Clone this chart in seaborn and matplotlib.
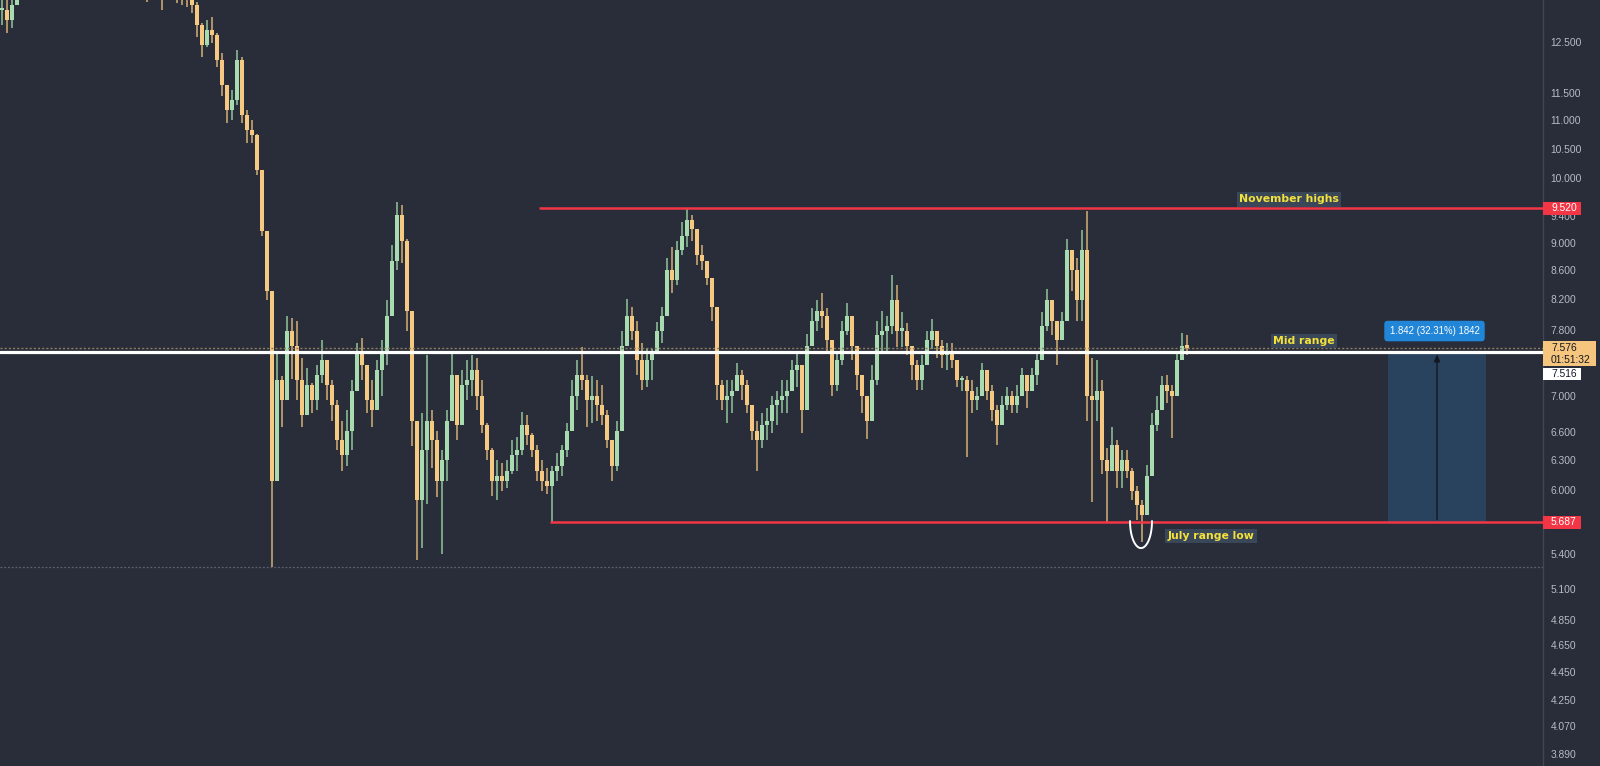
import numpy as np
import pandas as pd
import matplotlib
matplotlib.use("Agg")
import matplotlib.pyplot as plt
import seaborn as sns
from matplotlib.patches import Rectangle
from matplotlib.ticker import NullLocator

bg = "#292d39"
sns.set_theme(style="dark", rc={"axes.facecolor": bg, "figure.facecolor": bg,
                                "savefig.facecolor": bg})
plt.rcParams["font.family"] = ["Liberation Sans", "DejaVu Sans"]

# -- candle data (one bar per ~5 px of the original chart), open = previous close
closes = [13.18, 12.97, 13.29, 13.75, 13.90, 14.30, 14.60, 14.20, 14.80, 15.10,
          14.70, 14.40, 14.90, 15.30, 15.00, 14.60, 14.20, 14.50, 14.90, 14.60,
          14.10, 13.90, 14.30, 14.60, 14.20, 13.80, 14.10, 14.40, 14.00, 13.90,
          14.00, 13.80, 13.50, 13.90, 13.80, 13.60, 13.50, 13.45, 13.30, 12.86,
          12.44, 12.76, 12.65, 12.14, 11.65, 11.18, 11.37, 12.14, 11.09, 10.82,
          10.74, 10.14, 9.18, 8.32, 6.09, 7.18, 6.95, 7.79, 7.60, 7.18,
          6.78, 7.12, 6.95, 7.24, 7.42, 7.12, 6.89, 6.51, 6.35, 6.61,
          7.06, 7.54, 7.36, 6.95, 6.84, 7.30, 7.54, 7.98, 8.74, 9.42,
          9.03, 8.05, 6.72, 5.90, 6.40, 6.72, 6.51, 6.09, 6.30, 6.72,
          7.24, 6.67, 7.12, 7.18, 7.30, 7.00, 6.67, 6.40, 6.09, 6.14,
          6.09, 6.19, 6.35, 6.40, 6.67, 6.56, 6.40, 6.19, 6.09, 6.04,
          6.19, 6.24, 6.40, 6.61, 7.00, 7.24, 7.18, 6.95, 7.00, 6.89,
          6.78, 6.51, 6.24, 6.61, 7.60, 7.98, 7.79, 7.42, 7.18, 7.42,
          7.54, 7.79, 7.98, 8.60, 8.46, 8.89, 9.10, 9.34, 9.21, 8.82,
          8.74, 8.49, 8.10, 7.12, 6.95, 7.00, 7.06, 7.24, 7.12, 6.89,
          6.61, 6.51, 6.67, 6.72, 6.89, 6.95, 7.00, 7.06, 7.30, 7.36,
          6.84, 7.60, 7.92, 8.05, 7.98, 7.67, 7.12, 7.42, 7.79, 7.98,
          7.60, 7.24, 7.00, 6.72, 7.18, 7.73, 7.79, 7.85, 8.19, 7.79,
          7.79, 7.60, 7.36, 7.18, 7.36, 7.67, 7.79, 7.60, 7.48, 7.54,
          7.42, 7.18, 7.18, 7.06, 6.95, 7.00, 7.30, 7.06, 6.84, 6.67,
          6.89, 7.00, 6.89, 7.00, 7.24, 7.06, 7.24, 7.42, 7.85, 8.19,
          7.92, 7.67, 7.92, 8.89, 8.60, 8.19, 8.89, 7.00, 6.95, 7.06,
          6.30, 6.19, 6.46, 6.19, 6.30, 6.19, 5.99, 5.85, 5.76, 6.14,
          6.67, 6.84, 7.12, 7.06, 7.00, 7.42, 7.60, 7.576]

highs = [13.63, 13.40, 13.51, 14.10, 14.30, 14.60, 14.90, 14.70, 15.10, 15.40,
         15.20, 14.90, 15.20, 15.60, 15.50, 15.10, 14.80, 14.90, 15.20, 15.00,
         14.70, 14.30, 14.60, 14.90, 14.70, 14.40, 14.50, 14.70, 14.50, 14.50,
         14.60, 14.40, 14.20, 14.30, 14.20, 14.00, 13.90, 13.80, 13.70, 13.35,
         12.90, 12.97, 13.03, 12.69, 12.28, 11.66, 11.56, 12.34, 12.20, 11.18,
         11.00, 10.76, 10.14, 9.18, 8.32, 7.54, 7.23, 7.98, 7.95, 7.92,
         7.45, 7.33, 7.15, 7.36, 7.67, 7.42, 7.18, 6.95, 6.72, 6.84,
         7.18, 7.64, 7.70, 7.23, 7.19, 7.42, 7.67, 8.19, 8.96, 9.62,
         9.57, 9.06, 8.03, 6.72, 6.81, 7.49, 6.84, 6.61, 6.40, 6.84,
         7.52, 7.18, 7.30, 7.42, 7.48, 7.45, 7.18, 6.69, 6.43, 6.30,
         6.27, 6.30, 6.51, 6.54, 6.82, 6.78, 6.59, 6.46, 6.30, 6.22,
         6.24, 6.37, 6.46, 6.69, 7.19, 7.42, 7.58, 7.24, 7.23, 7.19,
         7.12, 6.84, 6.46, 6.72, 7.79, 8.20, 8.10, 7.92, 7.64, 7.57,
         7.56, 7.90, 8.10, 8.78, 8.93, 9.03, 9.31, 9.52, 9.42, 9.06,
         8.96, 8.74, 8.23, 8.03, 7.19, 7.18, 7.18, 7.39, 7.30, 7.18,
         6.89, 6.72, 6.81, 6.86, 7.00, 7.06, 7.19, 7.18, 7.42, 7.52,
         7.18, 7.75, 8.09, 8.19, 8.28, 8.09, 7.56, 7.54, 7.92, 8.15,
         7.98, 7.56, 7.24, 7.00, 7.36, 7.92, 8.05, 7.98, 8.53, 8.39,
         8.03, 7.89, 7.58, 7.42, 7.48, 7.79, 7.94, 7.79, 7.67, 7.64,
         7.64, 7.36, 7.23, 7.23, 7.18, 7.10, 7.39, 7.24, 7.12, 6.89,
         7.00, 7.10, 7.06, 7.12, 7.33, 7.24, 7.33, 7.54, 8.03, 8.34,
         8.19, 7.89, 8.03, 9.05, 8.89, 8.78, 9.19, 9.48, 7.45, 7.42,
         7.18, 6.43, 6.65, 6.51, 6.40, 6.40, 6.22, 6.04, 5.90, 6.25,
         6.81, 7.00, 7.23, 7.24, 7.12, 7.50, 7.76, 7.73]

lows = [12.86, 12.69, 12.79, 13.29, 13.60, 13.80, 14.10, 13.95, 14.20, 14.60,
        14.40, 14.10, 14.30, 14.80, 14.70, 14.30, 13.90, 14.00, 14.30, 14.20,
        13.80, 13.60, 13.70, 14.10, 13.90, 13.60, 13.65, 13.90, 13.70, 13.36,
        13.60, 13.50, 13.18, 13.45, 13.50, 13.34, 13.29, 13.25, 13.12, 12.61,
        12.20, 12.40, 12.49, 12.00, 11.45, 10.96, 11.00, 11.28, 10.96, 10.59,
        10.59, 10.05, 9.10, 8.19, 5.29, 6.61, 6.65, 7.14, 7.20, 6.95,
        6.65, 6.81, 6.81, 6.84, 7.15, 6.95, 6.72, 6.40, 6.19, 6.24,
        6.40, 7.06, 7.18, 6.81, 6.65, 6.84, 7.00, 7.36, 8.05, 8.60,
        8.71, 7.79, 6.45, 5.35, 5.45, 5.86, 6.22, 5.93, 5.40, 6.09,
        6.81, 6.51, 6.72, 6.95, 7.00, 6.84, 6.59, 6.30, 5.94, 5.90,
        5.99, 6.02, 6.16, 6.19, 6.35, 6.46, 6.33, 6.09, 5.99, 5.96,
        5.69, 6.09, 6.14, 6.33, 6.67, 6.84, 7.07, 6.65, 6.69, 6.72,
        6.67, 6.43, 6.09, 6.19, 6.95, 7.60, 7.67, 7.24, 7.07, 7.10,
        7.18, 7.52, 7.64, 8.19, 8.29, 8.39, 8.82, 8.93, 9.03, 8.67,
        8.60, 8.39, 7.92, 6.95, 6.84, 6.69, 6.81, 7.07, 6.95, 6.81,
        6.51, 6.19, 6.43, 6.51, 6.59, 6.67, 6.81, 6.81, 7.06, 7.10,
        6.59, 7.06, 7.60, 7.79, 7.83, 7.52, 7.00, 7.06, 7.36, 7.73,
        7.42, 7.07, 6.81, 6.52, 6.72, 7.12, 7.50, 7.50, 7.75, 7.58,
        7.58, 7.48, 7.19, 7.07, 7.07, 7.42, 7.56, 7.45, 7.33, 7.30,
        7.33, 7.10, 7.06, 6.33, 6.81, 6.84, 7.06, 6.95, 6.72, 6.46,
        6.72, 6.84, 6.81, 6.81, 7.07, 6.86, 7.10, 7.12, 7.52, 7.79,
        7.73, 7.36, 7.67, 8.39, 8.32, 7.92, 7.92, 6.72, 5.88, 6.72,
        6.16, 5.69, 6.25, 6.02, 6.02, 6.12, 5.90, 5.71, 5.51, 5.76,
        6.14, 6.61, 6.84, 6.92, 6.53, 7.18, 7.42, 7.48]

price_ticks = [12.5, 11.5, 11.0, 10.5, 10.0, 9.4, 9.0, 8.6, 8.2, 7.8, 7.0,
               6.6, 6.3, 6.0, 5.4, 5.1, 4.85, 4.65, 4.45, 4.25, 4.07, 3.89]

nov_high = 9.520
july_low = 5.687
mid_range = 7.516
last_price = 7.576
countdown = "01:51:32"
prior_low = 5.29
move_abs = 1.842
move_pct = 32.31
move_ticks = 1842

df = pd.DataFrame({"high": highs, "low": lows, "close": closes})
df["open"] = df["close"].shift(1).fillna(df["close"])
df["high"] = df[["high", "open", "close"]].max(axis=1)
df["low"] = df[["low", "open", "close"]].min(axis=1)
df["top"] = df[["open", "close"]].max(axis=1)
df["bot"] = df[["open", "close"]].min(axis=1)
df["top"] = np.maximum(df["top"], df["bot"] * 1.004)
up = df["close"] >= df["open"]

W, H = 1600, 766
fig = plt.figure(figsize=(W / 100, H / 100), dpi=100)
ax = fig.add_axes([0, 0, 1542.7 / W, 1])
ax.set_yscale("log")
ax.set_ylim(3.814, 13.40)
ax.set_xlim(-0.4, 308.14)

# -- candles
ax.vlines(df.index, df["low"], df["high"],
          colors=np.where(up, "#92c69c", "#d6b074"), lw=1.1, zorder=2)
ax.bar(df.index, df["top"] - df["bot"], bottom=df["bot"], width=0.66,
       color=np.where(up, "#a8dbb0", "#f5c981"), linewidth=0, zorder=2)

# -- levels
ax.axhline(prior_low, color="#5d6170", lw=0.9, ls=(0, (1.5, 1.5)), zorder=1)
ax.axhline(last_price, color="#8e7d60", lw=1.0, ls=(0, (1.5, 1.5)), zorder=3)
ax.axhline(mid_range, color="white", lw=2.3, zorder=4)
ax.hlines(nov_high, 107.4, 308.14, color="#f23645", lw=1.8, zorder=4)
ax.hlines(july_low, 109.6, 308.14, color="#f23645", lw=1.8, zorder=4)

# -- measurement box
ax.add_patch(Rectangle((277.2, july_low), 19.6, move_abs, fc="#29435e",
                       ec="none", zorder=1))
ax.annotate("", xy=(287.0, july_low + move_abs), xytext=(287.0, july_low),
            arrowprops=dict(arrowstyle="-|>,head_width=0.15,head_length=0.35",
                            color="#131722", lw=1.0), zorder=3)
ax.text(286.5, 7.785, f"{move_abs:.3f} ({move_pct:.2f}%) {move_ticks}",
        ha="center", va="center", color="white", fontsize=6.9, zorder=6,
        bbox=dict(boxstyle="round,pad=0.55,rounding_size=0.35",
                  fc="#2185d8", ec="none"))

# -- hand drawn U under the july low
t = np.linspace(0, np.pi, 50)
ax.plot(227.8 + 2.2 * np.cos(t), 5.70 * np.exp(-27 * np.sin(t) / 609.7),
        color="white", lw=1.4, zorder=5)

label_kw = dict(ha="center", va="center", color="#f4e23c", fontsize=7.8,
                fontweight="bold", family="DejaVu Sans", zorder=6,
                bbox=dict(boxstyle="square,pad=0.2", fc="#3a4759", ec="none"))
ax.text(257.4, 9.66, "November highs", **label_kw)
ax.text(260.4, 7.655, "Mid range", **label_kw)
ax.text(241.8, 5.56, "July range low", **label_kw)

# -- price axis
for s in ["top", "left", "bottom"]:
    ax.spines[s].set_visible(False)
ax.spines["right"].set_color("#434651")
ax.spines["right"].set_linewidth(1.0)
ax.yaxis.tick_right()
ax.set_yticks(price_ticks)
ax.yaxis.set_minor_locator(NullLocator())
ax.set_yticklabels([f"{v:.3f}" for v in price_ticks])
ax.tick_params(axis="y", length=0, pad=5.8, labelsize=7.4, labelcolor="#b8bbc4")
ax.set_xticks([])
ax.grid(False)


def img_y(price):
    return H - ax.transData.transform((0, price))[1]


def tag(y_top, y_bot, x1, fc):
    fig.add_artist(Rectangle((1542.7 / W, 1 - y_bot / H), (x1 - 1542.7) / W,
                             (y_bot - y_top) / H, transform=fig.transFigure,
                             fc=fc, ec="none", zorder=5))


def tag_text(y, s, color):
    fig.text(1551 / W, 1 - y / H, s, ha="left", va="center", fontsize=7.4,
             color=color, zorder=6)


for lvl in [nov_high, july_low]:
    yc = img_y(lvl)
    tag(yc - 6, yc + 6.5, 1581, "#f23645")
    tag_text(yc, f"{lvl:.3f}", "white")

yl = img_y(last_price)
tag(yl - 6.8, yl + 18.4, 1596, "#f6c67e")
tag_text(yl, f"{last_price:.3f}", "#131722")
tag_text(yl + 12, countdown, "#131722")
tag(yl + 20.4, yl + 32.4, 1581, "#ffffff")
tag_text(yl + 26.4, f"{mid_range:.3f}", "#131722")

fig.savefig("out.png", dpi=100)
